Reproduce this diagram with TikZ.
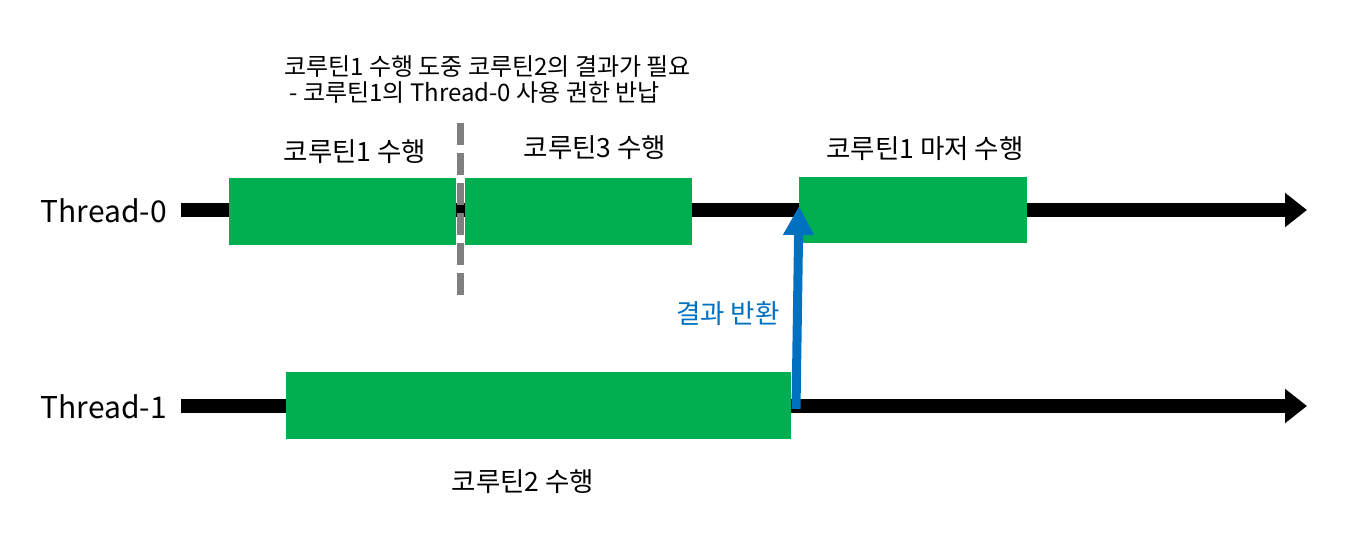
\documentclass[tikz,border=0pt]{standalone}
\usepackage{fontspec}
\setmainfont{Noto Sans CJK KR}
\usetikzlibrary{arrows.meta}
\definecolor{boxgreen}{HTML}{00B050}
\definecolor{arrowblue}{HTML}{0070C0}
\definecolor{dashgray}{HTML}{7F7F7F}
\tikzset{
  thread/.style={line width=14pt, -{Triangle[length=22pt,width=33pt]}, black},
  runbox/.style={fill=boxgreen, draw=none, inner sep=0pt, minimum height=67pt},
  lbl/.style={inner sep=0pt, font=\fontsize{26.5}{30}\selectfont},
  tlbl/.style={inner sep=0pt, anchor=east, font=\fontsize{30}{36}\selectfont},
  note/.style={inner sep=0pt, align=left, anchor=center, font=\fontsize{24}{26}\selectfont},
  handover/.style={dashgray, line width=7pt, dash pattern=on 22pt off 8pt},
  ret/.style={arrowblue, line width=9pt, -{Triangle[length=29pt,width=29pt]}},
}
\begin{document}
\begin{tikzpicture}[x=1pt,y=-1pt]
\useasboundingbox (0,0) rectangle (1360,536);
% thread labels
\node[tlbl] (t0) at (167,211) {Thread-0};
\node[tlbl] (t1) at (167,407) {Thread-1};
% thread lines
\coordinate (t0s) at (181,210);
\coordinate (t0e) at (1307,210);
\coordinate (t1s) at (181,406);
\coordinate (t1e) at (1307,406);
\draw[thread] (t0s) -- (t0e);
\draw[thread] (t1s) -- (t1e);
% boxes
\node[runbox, minimum width=227pt] (b1) at (342.5,211.5) {};
\node[runbox, minimum width=227pt] (b3) at (578.5,211.5) {};
\node[runbox, minimum width=228pt, minimum height=66pt] (b1r) at (913,210) {};
\node[runbox, minimum width=505pt] (b2) at (538.5,405.5) {};
% dashed handover line
\coordinate (d1) at (460.5,123);
\coordinate (d2) at (460.5,295);
\draw[handover] (d1) -- (d2);
% return arrow
\coordinate (r1) at (796,409);
\coordinate (r2) at (799,206);
\draw[ret] (r1) -- (r2);
% labels
\node[lbl] (l1) at (355,152) {코루틴1 수행};
\node[lbl] (l3) at (595,148) {코루틴3 수행};
\node[lbl] (l1r) at (925,149) {코루틴1 마저 수행};
\node[lbl] (l2) at (523,482) {코루틴2 수행};
\node[lbl, text=arrowblue] (lr) at (728,314) {결과 반환};
\node[note, anchor=west] (n) at (284,80) {코루틴1 수행 도중 코루틴2의 결과가 필요\\\ - 코루틴1의 Thread-0 사용 권한 반납};
\end{tikzpicture}
\end{document}
